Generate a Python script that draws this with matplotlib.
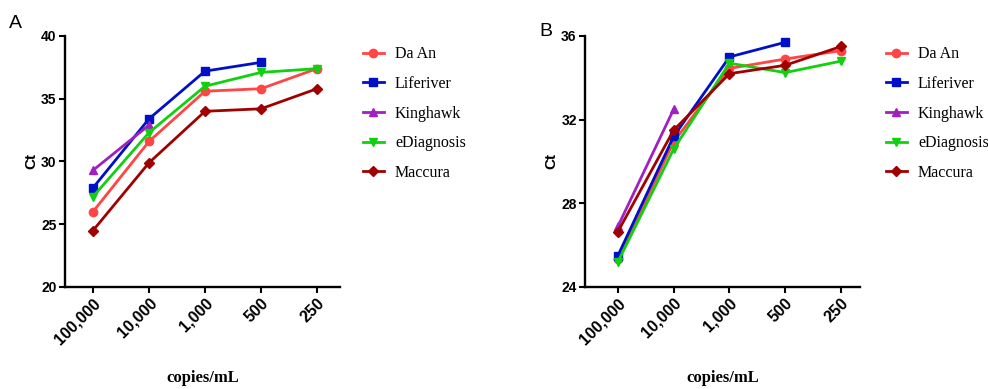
import matplotlib
matplotlib.use('Agg')
import matplotlib.pyplot as plt

# data
labels = ['100,000', '10,000', '1,000', '500', '250']
names = ['Da An', 'Liferiver', 'Kinghawk', 'eDiagnosis', 'Maccura']
colors = ['#FF4545', '#0010C8', '#A020C0', '#10D010', '#A00000']
markers = ['o', 's', '^', 'v', 'D']

# panel A
a_daan = [26.0, 31.6, 35.6, 35.8, 37.4]
a_liferiver = [27.9, 33.4, 37.2, 37.9]
a_kinghawk = [29.3, 32.9]
a_ediag = [27.2, 32.3, 36.0, 37.1, 37.4]
a_maccura = [24.5, 29.9, 34.0, 34.2, 35.8]

# panel B
b_daan = [25.35, 30.95, 34.45, 34.9, 35.3]
b_liferiver = [25.5, 31.2, 35.0, 35.7]
b_kinghawk = [26.9, 32.5]
b_ediag = [25.2, 30.6, 34.7, 34.25, 34.8]
b_maccura = [26.65, 31.5, 34.2, 34.6, 35.5]

W, H = 988, 389
fig = plt.figure(figsize=(W/100, H/100), dpi=100)

def px_axes(x0, x1, y0, y1):
    return fig.add_axes([x0/W, 1-y1/H, (x1-x0)/W, (y1-y0)/H])

def panel(ax, series, ylim, yticks, xlim, letter, lx, ly, legx):
    for vals, name, c, m in zip(series, names, colors, markers):
        ax.plot(range(len(vals)), vals, color=c, marker=m, lw=2, ms=6 if m != 'D' else 5.5,
                label=name)
    ax.set_xlim(*xlim)
    ax.set_ylim(*ylim)
    ax.set_yticks(yticks)
    ax.set_xticks(range(len(labels)))
    ax.set_xticklabels(labels, rotation=45, ha='right', va='top', rotation_mode='anchor',
                       fontweight='bold', fontsize=11.5, family='Liberation Sans')
    for t in ax.get_yticklabels():
        t.set_fontweight('bold')
        t.set_fontsize(10)
        t.set_family('Liberation Sans')
    for s in ['top', 'right']:
        ax.spines[s].set_visible(False)
    for s in ['left', 'bottom']:
        ax.spines[s].set_linewidth(1.7)
    ax.tick_params(width=1.5, length=4.5, direction='out', pad=1.5)
    ax.set_ylabel('Ct', fontweight='bold', fontsize=11, family='Liberation Sans', labelpad=2)
    ax.set_xlabel('copies/mL', fontweight='bold', fontsize=12, family='Liberation Serif',
                  labelpad=17)
    fig.text(lx/W, 1-ly/H, letter, fontsize=14, family='Liberation Sans', ha='left', va='center')
    ax.legend(loc='upper left', bbox_to_anchor=(legx/W, 1-46.5/H), bbox_transform=fig.transFigure,
              frameon=False, prop={'family': 'Liberation Serif', 'size': 11.5},
              handlelength=1.3, handletextpad=0.7, labelspacing=0.85, borderaxespad=0,
              borderpad=0)

ax1 = px_axes(65, 340, 36, 287)
panel(ax1, [a_daan, a_liferiver, a_kinghawk, a_ediag, a_maccura], (20, 40),
      [20, 25, 30, 35, 40], (-0.5, 4.41), 'A', 9, 23, 363)

ax2 = px_axes(585, 860, 36, 287)
panel(ax2, [b_daan, b_liferiver, b_kinghawk, b_ediag, b_maccura], (24, 36),
      [24, 28, 32, 36], (-0.59, 4.34), 'B', 539, 32, 886)

fig.savefig('out.png', dpi=100)
